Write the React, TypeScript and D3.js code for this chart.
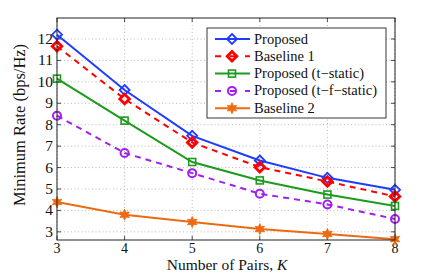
import React, { useEffect, useRef } from 'react';
import * as d3 from 'd3';

// number of pairs K
const pairs = [3, 4, 5, 6, 7, 8];

// minimum rate (bps/Hz) per scheme
const proposed = [12.2, 9.62, 7.48, 6.33, 5.52, 4.96];
const baseline1 = [11.66, 9.2, 7.17, 6.02, 5.35, 4.65];
const proposedTStatic = [10.15, 8.19, 6.26, 5.4, 4.74, 4.21];
const proposedTFStatic = [8.42, 6.68, 5.74, 4.78, 4.28, 3.6];
const baseline2 = [4.39, 3.8, 3.46, 3.13, 2.9, 2.66];

const yTicks = [3, 4, 5, 6, 7, 8, 9, 10, 11, 12];

const seriesNames = [
  'Proposed',
  'Baseline 1',
  'Proposed (t\u2212static)',
  'Proposed (t\u2212f\u2212static)',
  'Baseline 2',
];

const series = [
  { name: seriesNames[0], values: proposed, color: '#1f3cff', dash: null, marker: 'diamond' },
  { name: seriesNames[1], values: baseline1, color: '#ff0000', dash: '6,5', marker: 'diamondFill' },
  { name: seriesNames[2], values: proposedTStatic, color: '#1c9c1c', dash: null, marker: 'square' },
  { name: seriesNames[3], values: proposedTFStatic, color: '#a020f0', dash: '6,5', marker: 'circle' },
  { name: seriesNames[4], values: baseline2, color: '#ec6a12', dash: null, marker: 'star' },
];

function drawMarker(g: any, kind: string, x: number, y: number, color: string) {
  if (kind === 'diamond' || kind === 'diamondFill') {
    const s = kind === 'diamondFill' ? 4.8 : 5;
    g.append('path')
      .attr('d', `M${x},${y - s}L${x + s},${y}L${x},${y + s}L${x - s},${y}Z`)
      .attr('fill', 'none')
      .attr('stroke', color)
      .attr('stroke-width', kind === 'diamondFill' ? 2.8 : 1.8);
  } else if (kind === 'square') {
    g.append('rect')
      .attr('x', x - 3.5).attr('y', y - 3.5)
      .attr('width', 7).attr('height', 7)
      .attr('fill', 'none').attr('stroke', color).attr('stroke-width', 1.6);
  } else if (kind === 'circle') {
    g.append('circle')
      .attr('cx', x).attr('cy', y).attr('r', 4)
      .attr('fill', 'none').attr('stroke', color).attr('stroke-width', 2);
  } else if (kind === 'star') {
    // six-pointed star
    const pts: [number, number][] = d3.range(12).map((i) => {
      const a = (i * Math.PI) / 6 - Math.PI / 2;
      const r = i % 2 === 0 ? 5.5 : 2.8;
      return [x + r * Math.cos(a), y + r * Math.sin(a)];
    });
    g.append('path')
      .attr('d', 'M' + pts.map((p) => p.join(',')).join('L') + 'Z')
      .attr('fill', color).attr('stroke', color).attr('stroke-width', 0.8);
  }
}

export default function App() {
  const ref = useRef<SVGSVGElement>(null);

  useEffect(() => {
    const svg = d3.select(ref.current);
    svg.selectAll('*').remove();

    const left = 57, right = 395, top = 18, bottom = 240;
    const x = d3.scaleLinear().domain([3, 8]).range([left, right]);
    const y = d3.scaleLinear().domain([2.62, 12.98]).range([bottom, top]);

    svg.append('rect').attr('width', 436).attr('height', 273).attr('fill', '#fff');

    // grid
    const grid = svg.append('g').attr('stroke', '#9a9a9a').attr('stroke-width', 0.7)
      .attr('stroke-dasharray', '1,2.5');
    pairs.forEach((p) => {
      grid.append('line').attr('x1', x(p)).attr('x2', x(p)).attr('y1', top).attr('y2', bottom);
    });
    yTicks.forEach((t) => {
      grid.append('line').attr('x1', left).attr('x2', right).attr('y1', y(t)).attr('y2', y(t));
    });

    // inward ticks on all sides
    const ticks = svg.append('g').attr('stroke', '#222').attr('stroke-width', 0.8);
    pairs.forEach((p) => {
      ticks.append('line').attr('x1', x(p)).attr('x2', x(p)).attr('y1', bottom).attr('y2', bottom - 4);
      ticks.append('line').attr('x1', x(p)).attr('x2', x(p)).attr('y1', top).attr('y2', top + 4);
    });
    yTicks.forEach((t) => {
      ticks.append('line').attr('x1', left).attr('x2', left + 4).attr('y1', y(t)).attr('y2', y(t));
      ticks.append('line').attr('x1', right).attr('x2', right - 4).attr('y1', y(t)).attr('y2', y(t));
    });

    const font = "'Liberation Serif', 'Times New Roman', Times, 'DejaVu Serif', serif";

    // tick labels
    const labels = svg.append('g').style('font-family', font).attr('fill', '#111');
    pairs.forEach((p) => {
      labels.append('text').attr('x', x(p)).attr('y', bottom + 12.5)
        .attr('font-size', 14).attr('text-anchor', 'middle').text(p);
    });
    yTicks.forEach((t) => {
      labels.append('text').attr('x', left - 4).attr('y', y(t) + 5)
        .attr('font-size', 15.5).attr('text-anchor', 'end').text(t);
    });

    // lines
    const line = d3.line<number>().x((_, i) => x(pairs[i])).y((d) => y(d));
    const plot = svg.append('g');
    series.forEach((s) => {
      plot.append('path')
        .attr('d', line(s.values))
        .attr('fill', 'none')
        .attr('stroke', s.color)
        .attr('stroke-width', 2)
        .attr('stroke-dasharray', s.dash);
      s.values.forEach((v, i) => drawMarker(plot, s.marker, x(pairs[i]), y(v), s.color));
    });

    // frame
    svg.append('rect')
      .attr('x', left).attr('y', top)
      .attr('width', right - left).attr('height', bottom - top)
      .attr('fill', 'none').attr('stroke', '#222').attr('stroke-width', 1);

    // legend
    const lg = svg.append('g');
    lg.append('rect')
      .attr('x', 207).attr('y', 28).attr('width', 179).attr('height', 90)
      .attr('fill', '#fff').attr('stroke', '#222').attr('stroke-width', 0.9);
    series.forEach((s, i) => {
      const ly = 39 + i * 17.3;
      lg.append('line')
        .attr('x1', 215).attr('x2', 250).attr('y1', ly).attr('y2', ly)
        .attr('stroke', s.color).attr('stroke-width', 2)
        .attr('stroke-dasharray', s.dash ? '6,9' : null);
      drawMarker(lg, s.marker, 232, ly, s.color);
      lg.append('text')
        .attr('x', 254).attr('y', ly + 4.5)
        .style('font-family', font).attr('font-size', 14.5).attr('fill', '#111')
        .text(s.name);
    });

    // axis titles
    svg.append('text')
      .attr('transform', `translate(25,${(top + bottom) / 2 - 4}) rotate(-90)`)
      .attr('text-anchor', 'middle')
      .style('font-family', font).attr('font-size', 16.5).attr('fill', '#111')
      .text('Minimum Rate (bps/Hz)');
    const xt = svg.append('text')
      .attr('x', 227).attr('y', 269.6)
      .attr('text-anchor', 'middle')
      .style('font-family', font).attr('font-size', 15.5).attr('fill', '#111');
    xt.append('tspan').text('Number of Pairs, ');
    xt.append('tspan').attr('font-style', 'italic').text('K');
  }, []);

  return (
    <svg
      ref={ref}
      width={436}
      height={273}
      style={{ position: 'absolute', left: 0, top: 0 }}
    />
  );
}
